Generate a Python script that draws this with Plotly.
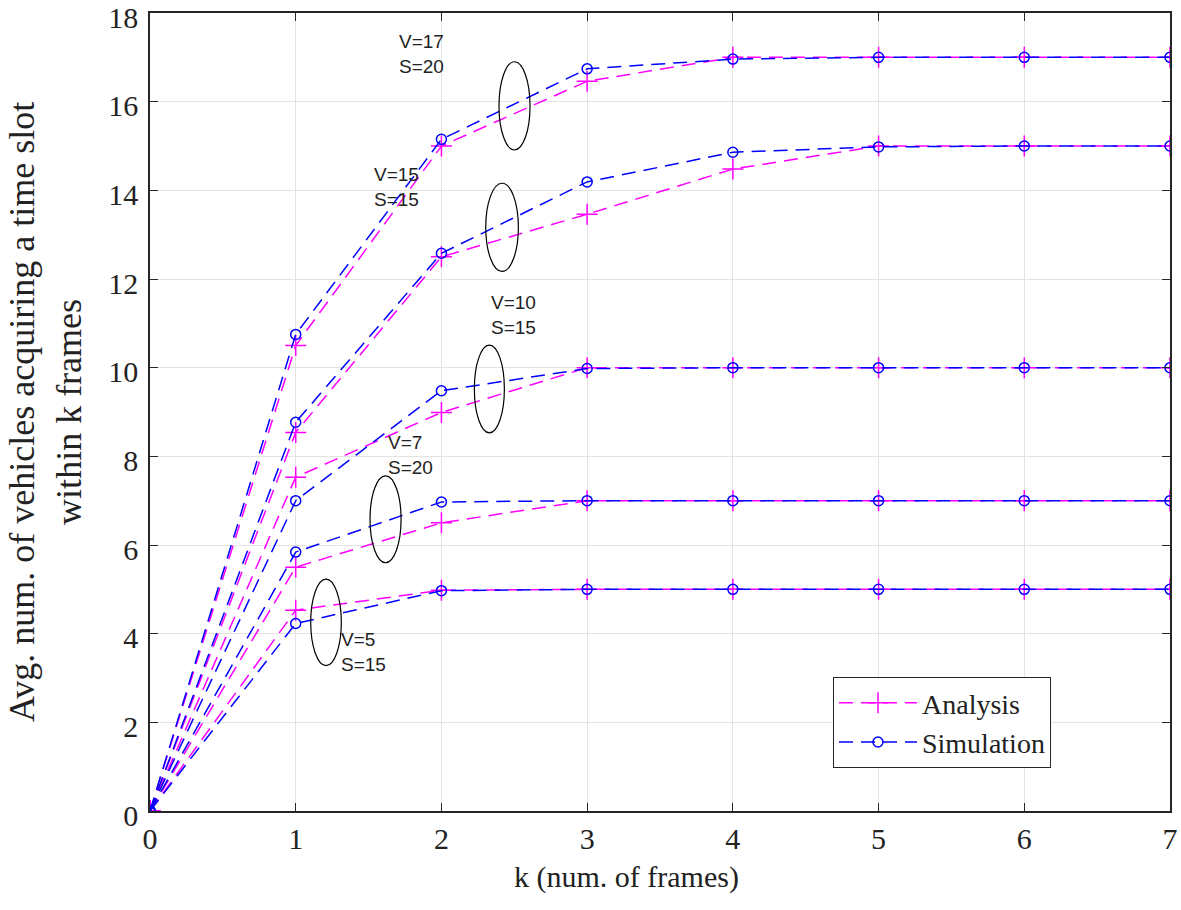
import plotly.graph_objects as go

k = [0, 1, 2, 3, 4, 5, 6, 7]

ana_v17 = [0, 10.5, 15.0, 16.46, 17, 17, 17, 17]
sim_v17 = [0, 10.75, 15.15, 16.74, 16.96, 17, 17, 17]
ana_v15 = [0, 8.54, 12.5, 13.46, 14.48, 15, 15, 15]
sim_v15 = [0, 8.77, 12.58, 14.19, 14.86, 14.98, 15, 15]
ana_v10 = [0, 7.53, 8.99, 10, 10, 10, 10, 10]
sim_v10 = [0, 7.0, 9.48, 9.98, 10, 10, 10, 10]
ana_v7 = [0, 5.5, 6.5, 7, 7, 7, 7, 7]
sim_v7 = [0, 5.84, 6.97, 7, 7, 7, 7, 7]
ana_v5 = [0, 4.53, 4.98, 5, 5, 5, 5, 5]
sim_v5 = [0, 4.23, 4.97, 5, 5, 5, 5, 5]

analysis = [ana_v17, ana_v15, ana_v10, ana_v7, ana_v5]
simulation = [sim_v17, sim_v15, sim_v10, sim_v7, sim_v5]

labels = ["V=17<br>S=20", "V=15<br>S=15", "V=10<br>S=15", "V=7<br>S=20", "V=5<br>S=15"]
label_pos = [(1.693, 17.08), (1.526, 14.07), (2.327, 11.18), (1.623, 8.03), (1.30, 3.58)]
ellipses = [(2.395, 14.91, 2.608, 16.90), (2.304, 12.17, 2.528, 14.16),
            (2.226, 8.53, 2.432, 10.51), (1.510, 5.60, 1.723, 7.56),
            (1.103, 3.28, 1.313, 5.23)]

MAG = "#FF00FF"
BLU = "#0000FF"
DASH = "14px,8px"

fig = go.Figure()
for i, y in enumerate(analysis):
    fig.add_trace(go.Scatter(
        x=k, y=y, mode="lines+markers", name="Analysis", legendgroup="a",
        showlegend=(i == 0),
        line=dict(color=MAG, width=1.5, dash=DASH),
        marker=dict(symbol="cross-thin-open", size=15, color=MAG,
                    line=dict(color=MAG, width=1.5))))
for i, y in enumerate(simulation):
    fig.add_trace(go.Scatter(
        x=k, y=y, mode="lines+markers", name="Simulation", legendgroup="s",
        showlegend=(i == 0),
        line=dict(color=BLU, width=1.5, dash=DASH),
        marker=dict(symbol="circle-open", size=10, color=BLU,
                    line=dict(color=BLU, width=1.5))))

for (x0, y0, x1, y1) in ellipses:
    fig.add_shape(type="circle", xref="x", yref="y", x0=x0, y0=y0, x1=x1, y1=y1,
                  line=dict(color="black", width=1.2))

for txt, (lx, ly) in zip(labels, label_pos):
    fig.add_annotation(x=lx, y=ly, xref="x", yref="y", text=txt, showarrow=False,
                       xanchor="left", yanchor="middle", align="left",
                       font=dict(family="Liberation Sans", size=19, color="#222222"))

fig.add_annotation(x=0.4667, y=0, xref="paper", yref="paper", yshift=-66,
                   text="k (num. of frames)", showarrow=False,
                   xanchor="center", yanchor="middle",
                   font=dict(family="Liberation Serif", size=30, color="#222222"))
fig.add_annotation(x=0, y=0.5, xref="paper", yref="paper", xshift=-105,
                   text="Avg. num. of vehicles acquiring a time slot<br>within k frames",
                   showarrow=False, textangle=-90, xanchor="center", yanchor="middle",
                   font=dict(family="Liberation Serif", size=36, color="#222222"))

axis_common = dict(showgrid=True, gridcolor="#e3e3e3", gridwidth=1,
                   showline=True, linecolor="#262626", linewidth=1.5, mirror="ticks",
                   ticks="inside", ticklen=8, tickwidth=1.2, tickcolor="#262626",
                   zeroline=False, automargin=False, ticklabeloverflow="allow",
                   tickfont=dict(family="Liberation Serif", size=30, color="#222222"))

fig.update_xaxes(range=[0, 7], tickvals=list(range(0, 8)), ticklabelstandoff=0,
                 **axis_common)
fig.update_yaxes(range=[0, 18], tickvals=list(range(0, 19, 2)), ticklabelstandoff=4,
                 ticklabelshift=4, **axis_common)

fig.update_layout(
    width=1181, height=910,
    margin=dict(l=150, r=11, t=13, b=99),
    paper_bgcolor="white", plot_bgcolor="white",
    legend=dict(x=0.6696, y=0.168, xanchor="left", yanchor="top",
                bgcolor="white", bordercolor="#262626", borderwidth=1,
                font=dict(family="Liberation Serif", size=28, color="#222222"),
                tracegroupgap=0, itemwidth=78),
)

fig.write_html("out.html", config={"displayModeBar": False},
               post_script="document.body.style.margin='0';")
